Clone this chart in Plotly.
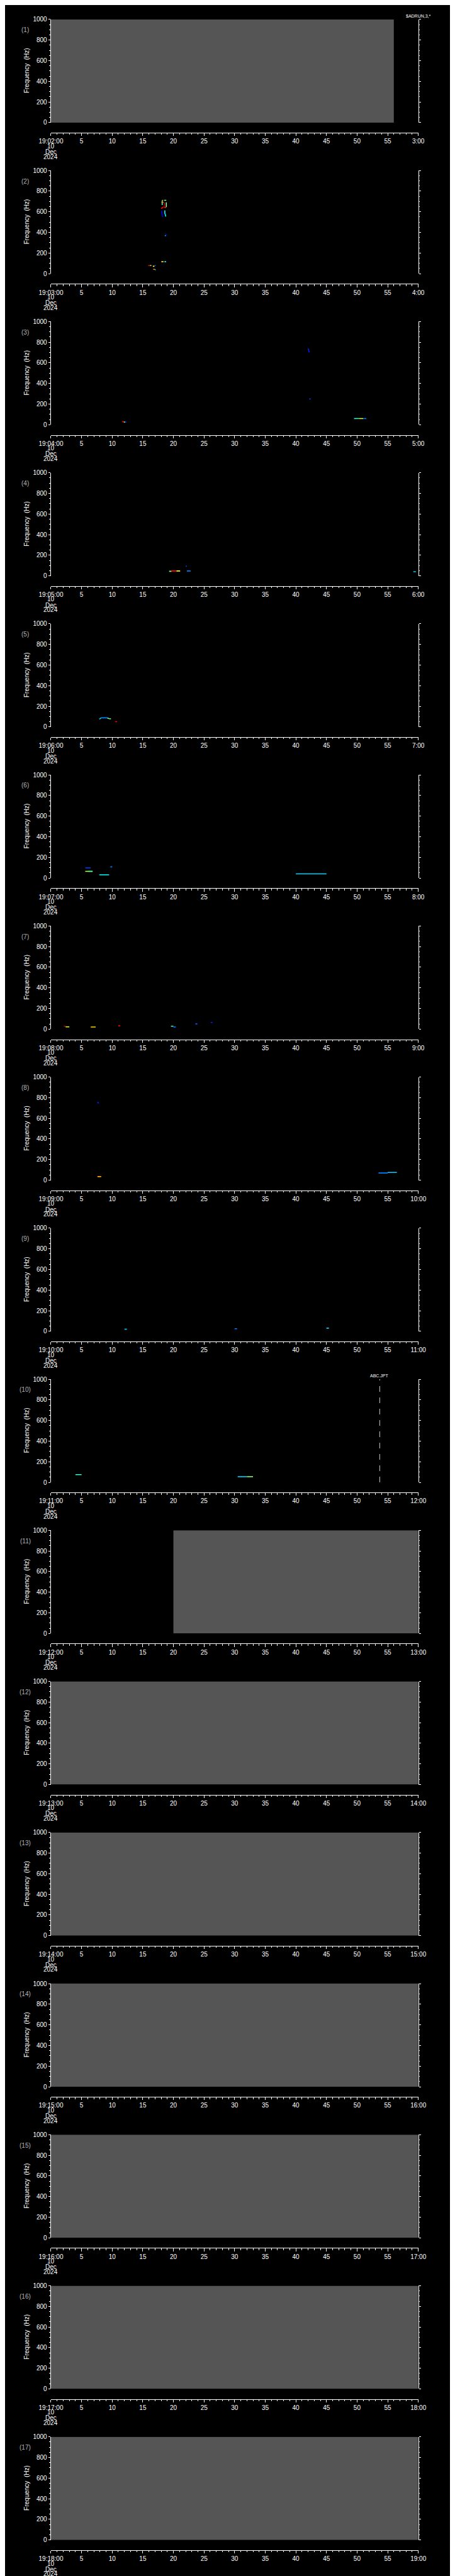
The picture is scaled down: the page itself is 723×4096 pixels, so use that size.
import plotly.graph_objects as go
from plotly.colors import sample_colorscale

# ---------------- reference geometry (pixels of the 1024 x 5802 original) ----
W, H = 723, 4096
REF_W, REF_H = 1024, 5802
S = W / REF_W
PLOT_X0, PLOT_X1 = 80, 945
TOP0, PITCH, PLOT_H = 24, 341.3, 233
TAXIS_OFF = 256
FONT = "Liberation Sans"

# ---------------- data -------------------------------------------------------
panel_numbers = list(range(1, 18))
start_labels = ["19:02:00", "19:03:00", "19:04:00", "19:05:00", "19:06:00", "19:07:00",
                "19:08:00", "19:09:00", "19:10:00", "19:11:00", "19:12:00", "19:13:00",
                "19:14:00", "19:15:00", "19:16:00", "19:17:00", "19:18:00"]
end_labels = ["3:00", "4:00", "5:00", "6:00", "7:00", "8:00", "9:00", "10:00", "11:00",
              "12:00", "13:00", "14:00", "15:00", "16:00", "17:00", "18:00", "19:00"]
minute_ticks = [0, 5, 10, 15, 20, 25, 30, 35, 40, 45, 50, 55, 60]
minute_mid_labels = ["5", "10", "15", "20", "25", "30", "35", "40", "45", "50", "55"]
date_lines = ["10", "Dec", "2024"]
freq_ticks = [0, 200, 400, 600, 800, 1000]

# no-data (gray) intervals, minutes
nodata_panel = [1, 11, 12, 13, 14, 15, 16, 17]
nodata_t0 = [0, 20, 0, 0, 0, 0, 0, 0]
nodata_t1 = [56, 60, 60, 60, 60, 60, 60, 60]

# detected signal traces: panel, start/end minute, start/end frequency (Hz), level (0-1)
seg_panel = [2, 2, 2, 2, 2, 2, 2, 2, 2, 2, 2, 2, 2, 2, 2, 2, 2, 2, 2, 2, 2, 2,
             3, 3, 3, 3, 3, 3, 3, 3,
             4, 4, 4, 4, 4, 4,
             5, 5, 5, 5, 5,
             6, 6, 6, 6, 6, 6,
             7, 7, 7, 7, 7, 7, 7, 7,
             8, 8, 8, 8,
             9, 9, 9,
             10, 10, 10]
seg_t0 = [18.17, 18.17, 18.50, 18.03, 18.54, 18.84, 17.98, 18.54, 18.10, 18.15, 18.60, 18.65,
          18.75, 18.60, 18.03, 18.54, 15.90, 16.20, 16.64, 16.90, 16.70, 17.00,
          11.6, 11.9, 12.1, 42.0, 42.2, 49.5, 50.3, 51.0,
          19.3, 19.7, 20.5, 22.2, 22.0, 59.2,
          7.9, 8.2, 9.2, 9.5, 10.5,
          5.6, 5.6, 6.0, 7.9, 9.7, 40.0,
          2.1, 2.4, 6.5, 11.0, 19.6, 20.0, 23.6, 26.1,
          7.6, 7.6, 53.5, 55.0,
          12.0, 30.0, 45.0,
          4.0, 30.5, 32.0]
seg_t1 = [18.17, 18.35, 18.84, 18.38, 18.54, 18.84, 18.38, 18.80, 18.10, 18.26, 18.60, 18.75,
          18.80, 18.70, 18.38, 18.80, 16.20, 16.40, 16.90, 17.10, 17.00, 17.10,
          11.9, 12.1, 12.3, 42.2, 42.4, 50.3, 51.0, 51.5,
          19.7, 20.5, 21.1, 22.8, 22.2, 59.6,
          8.2, 9.2, 9.5, 9.8, 10.8,
          6.5, 6.8, 6.8, 9.5, 10.0, 45.0,
          2.4, 3.0, 7.3, 11.3, 20.0, 20.4, 23.9, 26.4,
          7.8, 8.2, 55.0, 56.5,
          12.4, 30.4, 45.4,
          5.0, 32.0, 33.0]
seg_f0 = [711, 711, 711, 691, 691, 691, 632, 642, 611, 582, 614, 579,
          382, 368, 116, 116, 79, 79, 72, 79, 42, 38,
          30, 26, 26, 740, 250, 60, 60, 60,
          44, 47, 47, 47, 94, 40,
          75, 88, 88, 80, 51,
          98, 65, 65, 31, 108, 40,
          30, 22, 20, 32, 28, 20, 50, 65,
          758, 35, 70, 75,
          20, 25, 30,
          75, 55, 55]
seg_f1 = [665, 711, 711, 691, 640, 645, 646, 642, 582, 549, 579, 553,
          365, 368, 116, 116, 79, 79, 72, 79, 42, 38,
          30, 26, 26, 700, 250, 60, 60, 60,
          44, 47, 47, 47, 94, 40,
          88, 88, 80, 78, 51,
          98, 65, 65, 31, 108, 40,
          25, 22, 20, 32, 28, 20, 50, 65,
          745, 35, 70, 75,
          20, 25, 30,
          75, 55, 55]
seg_level = [0.42, 0.80, 0.50, 0.80, 1.00, 0.50, 0.90, 0.88, 0.00, 0.00, 0.35, 0.35,
             0.05, 0.40, 0.70, 0.35, 0.90, 0.55, 0.65, 0.15, 0.80, 0.40,
             0.90, 0.55, 0.10, 0.05, 0.10, 0.40, 0.60, 0.20,
             0.50, 0.90, 0.65, 0.20, 0.10, 0.30,
             0.30, 0.20, 0.45, 0.50, 0.90,
             0.10, 0.60, 0.45, 0.35, 0.20, 0.30,
             0.95, 0.60, 0.70, 0.90, 0.40, 0.20, 0.15, 0.05,
             0.05, 0.75, 0.20, 0.30,
             0.30, 0.20, 0.30,
             0.40, 0.30, 0.50]

# event marker (panel 10)
event_panel = 10
event_minute = 53.7
event_label = "ABC.JPT"
header_label = "$ADRUN,3,*"

signal_scale = [[0.0, "#0000ff"], [0.2, "#0080ff"], [0.35, "#00ffff"], [0.5, "#80ff80"],
                [0.65, "#ffff00"], [0.8, "#ff8000"], [0.9, "#ff0000"], [1.0, "#a00000"]]


# ---------------- helpers ----------------------------------------------------
def px_x(x):
    return x / REF_W


def px_y(y):
    return 1 - y / REF_H


def panel_top(k):
    return TOP0 + (k - 1) * PITCH


fig = go.Figure()
layout = {}
annotations = []
shapes = []

for k in panel_numbers:
    top = panel_top(k)
    xa = "x" if k == 1 else f"x{k}"
    ya = "y" if k == 1 else f"y{k}"
    yr = f"y{17 + k}"
    xkey = "xaxis" if k == 1 else f"xaxis{k}"
    ykey = "yaxis" if k == 1 else f"yaxis{k}"
    yrkey = f"yaxis{17 + k}"

    layout[xkey] = dict(
        domain=[px_x(PLOT_X0), px_x(PLOT_X1)], range=[0, 60], anchor="free",
        position=px_y(top + TAXIS_OFF), showline=True, linecolor="white", linewidth=1,
        ticks="outside", ticklen=6 * S, tickwidth=1, tickcolor="white",
        tickmode="array", tickvals=minute_ticks,
        ticktext=[start_labels[k - 1]] + minute_mid_labels + [end_labels[k - 1]],
        tickfont=dict(family=FONT, size=10, color="white"),
        minor=dict(tickmode="linear", tick0=0, dtick=1, ticks="outside",
                   ticklen=3.3 * S, tickcolor="white", tickwidth=1, showgrid=False),
        showgrid=False, zeroline=False, fixedrange=True,
    )
    ydom = [px_y(top + PLOT_H), px_y(top)]
    layout[ykey] = dict(
        domain=ydom, range=[0, 1000], anchor=xa, showline=True, linecolor="white",
        linewidth=1, ticks="outside", ticklen=4.7 * S, tickwidth=1, tickcolor="white",
        tickmode="array", tickvals=freq_ticks,
        tickfont=dict(family=FONT, size=10, color="white"),
        minor=dict(tickmode="linear", tick0=0, dtick=50, ticks="outside",
                   ticklen=2.3 * S, tickcolor="white", tickwidth=1, showgrid=False),
        showgrid=False, zeroline=False, fixedrange=True,
    )
    layout[yrkey] = dict(
        domain=ydom, range=[0, 1000], anchor=xa, overlaying=ya, side="right",
        showline=True, linecolor="white", linewidth=1, ticks="outside",
        ticklen=4.7 * S, tickwidth=1, tickcolor="white", tickmode="array",
        tickvals=freq_ticks, showticklabels=False,
        minor=dict(tickmode="linear", tick0=0, dtick=50, ticks="outside",
                   ticklen=2.3 * S, tickcolor="white", tickwidth=1, showgrid=False),
        showgrid=False, zeroline=False, fixedrange=True,
    )

    # invisible anchor trace so every axis pair is drawn
    fig.add_trace(go.Scatter(x=[0], y=[0], xaxis=xa, yaxis=ya, mode="markers",
                             marker=dict(size=1, opacity=0), hoverinfo="skip",
                             showlegend=False))
    fig.add_trace(go.Scatter(x=[0], y=[0], xaxis=xa, yaxis=yr, mode="markers",
                             marker=dict(size=1, opacity=0), hoverinfo="skip",
                             showlegend=False))

    # panel number
    annotations.append(dict(text=f"({k})", x=px_x(20), y=px_y(top + 24), xref="paper",
                            yref="paper", showarrow=False, xanchor="center",
                            yanchor="middle",
                            font=dict(family=FONT, size=10, color="#b4b4b4")))
    # y title
    annotations.append(dict(text="Frequency  (Hz)", x=px_x(23), y=px_y(top + 116),
                            xref="paper", yref="paper", showarrow=False, textangle=-90,
                            xanchor="center", yanchor="middle",
                            font=dict(family=FONT, size=10, color="white")))
    # date under first time tick
    for txt, off in zip(date_lines, [286, 299, 310]):
        annotations.append(dict(text=txt, x=px_x(PLOT_X0), y=px_y(top + off),
                                xref="paper", yref="paper", showarrow=False,
                                xanchor="center", yanchor="middle",
                                font=dict(family=FONT, size=10, color="white")))

# gray no-data blocks
for p, t0, t1 in zip(nodata_panel, nodata_t0, nodata_t1):
    xa = "x" if p == 1 else f"x{p}"
    ya = "y" if p == 1 else f"y{p}"
    shapes.append(dict(type="rect", xref=xa, yref=ya, x0=t0, x1=t1, y0=0, y1=1000,
                       fillcolor="#555555", line=dict(width=0), layer="below"))

# signal traces
seg_colors = sample_colorscale(signal_scale, seg_level)
for p, t0, t1, f0, f1, c in zip(seg_panel, seg_t0, seg_t1, seg_f0, seg_f1, seg_colors):
    xa = "x" if p == 1 else f"x{p}"
    ya = "y" if p == 1 else f"y{p}"
    fig.add_trace(go.Scatter(x=[t0, t1], y=[f0, f1], xaxis=xa, yaxis=ya, mode="lines",
                             line=dict(color=c, width=1.6), hoverinfo="skip",
                             showlegend=False))

# event marker in panel 10
shapes.append(dict(type="line", xref=f"x{event_panel}", yref=f"y{event_panel}",
                   x0=event_minute, x1=event_minute, y0=0, y1=1000,
                   line=dict(color="#c8c8c8", width=1, dash="dash")))
annotations.append(dict(text=event_label, x=event_minute, xref=f"x{event_panel}",
                        y=px_y(panel_top(event_panel) - 8), yref="paper", showarrow=False,
                        xanchor="center", yanchor="middle",
                        font=dict(family=FONT, size=7, color="white")))

annotations.append(dict(text=header_label, x=px_x(946), y=px_y(16), xref="paper",
                        yref="paper", showarrow=False, xanchor="center", yanchor="middle",
                        font=dict(family=FONT, size=7, color="white")))

fig.update_layout(
    width=W, height=H, margin=dict(l=0, r=0, t=0, b=0),
    paper_bgcolor="black", plot_bgcolor="black", showlegend=False,
    annotations=annotations, shapes=shapes, **layout,
)

fig.write_html("out.html")
